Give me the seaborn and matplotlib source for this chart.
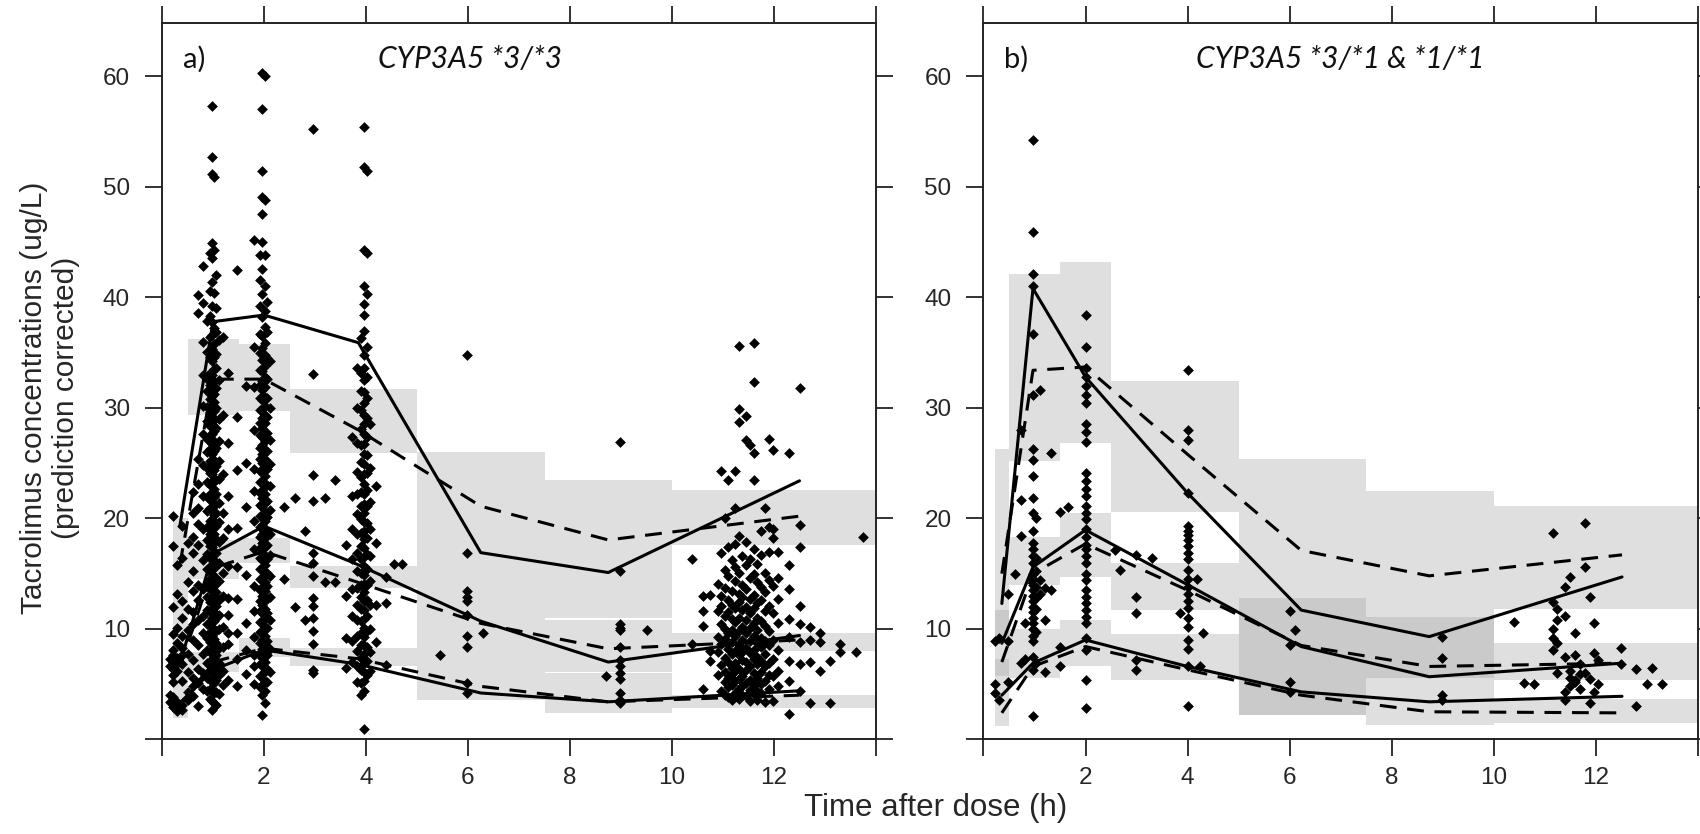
import matplotlib
matplotlib.use("Agg")
import matplotlib.pyplot as plt
import seaborn as sns
import pandas as pd

# ---------------- data ----------------
bin_edges = [0.22, 0.5, 1.5, 2.5, 5.0, 7.5, 10.0, 14.0]

# panel a: simulated CI boxes (95th, 50th, 5th percentiles)
hi_lo_a = [10.5, 29.4, 29.7, 25.9, 13.1, 11.0, 17.6]
hi_hi_a = [20.0, 36.2, 35.8, 31.7, 26.0, 23.5, 22.6]
med_lo_a = [4.5, 14.5, 16.0, 13.7, 7.8, 6.1, 8.0]
med_hi_a = [10.5, 18.0, 18.2, 15.7, 13.1, 10.8, 9.65]
lo_lo_a = [1.9, 6.1, 7.5, 6.6, 3.6, 2.4, 2.8]
lo_hi_a = [4.5, 7.9, 9.2, 8.3, 7.8, 6.0, 4.0]

# panel b
hi_lo_b = [9.3, 25.2, 26.8, 20.6, 8.5, 5.6, 11.8]
hi_hi_b = [26.3, 42.1, 43.2, 32.4, 25.35, 22.5, 21.1]
med_lo_b = [5.7, 14.0, 14.7, 11.7, 2.2, 5.6, 5.4]
med_hi_b = [11.7, 18.3, 20.5, 16.0, 12.8, 11.1, 8.7]
lo_lo_b = [1.2, 5.6, 6.6, 5.4, 2.2, 1.3, 1.5]
lo_hi_b = [7.3, 10.0, 10.8, 9.5, 8.5, 5.6, 3.7]

# observed percentile lines (solid) and predicted medians (dashed)
t_a = [0.35, 1.0, 2.0, 3.85, 6.25, 8.75, 12.5]
obs_hi_a = [19.3, 37.8, 38.4, 35.9, 16.9, 15.1, 23.4]
obs_med_a = [6.9, 16.8, 19.3, 15.8, 10.7, 7.0, 9.4]
obs_lo_a = [3.3, 6.3, 8.1, 6.8, 4.2, 3.4, 4.4]
pred_hi_a = [15.8, 32.6, 32.6, 28.0, 21.1, 18.05, 20.2]
pred_med_a = [6.5, 15.5, 17.0, 14.2, 10.5, 8.2, 9.0]
pred_lo_a = [3.0, 7.0, 8.25, 7.3, 4.8, 3.4, 4.0]

t_b = [0.36, 0.97, 2.0, 4.0, 6.23, 8.74, 12.52]
obs_hi_b = [12.3, 40.8, 32.8, 22.3, 11.7, 9.3, 14.7]
obs_med_b = [8.7, 15.6, 18.95, 14.0, 8.4, 5.67, 6.9]
obs_lo_b = [4.0, 6.9, 9.0, 6.6, 4.3, 3.4, 3.9]
pred_hi_b = [15.0, 33.4, 33.7, 25.8, 17.1, 14.8, 16.7]
pred_med_b = [7.0, 15.0, 17.7, 13.5, 8.5, 6.6, 6.9]
pred_lo_b = [2.4, 6.6, 8.4, 6.3, 4.0, 2.5, 2.4]

# observations, grouped as (time after dose, [concentrations])
obs_a = [
    (0.15, [7.3, 6.6, 4.0, 3.4]),
    (0.22, [20.2, 17.5, 12.0, 9.5, 8.1, 7.6, 7.0, 6.4, 5.8, 5.2, 3.8, 3.2, 2.9]),
    (0.30, [15.8, 13.2, 10.1, 8.7, 7.4, 6.9, 6.2, 3.4, 2.8, 2.6]),
    (0.40, [19.3, 16.4, 12.5, 11.0, 9.4, 8.3, 7.6, 6.8, 5.3, 3.1, 2.7]),
    (0.50, [17.8, 14.2, 11.8, 9.9, 7.7, 6.1, 4.3, 3.6]),
    (0.60, [22.4, 20.5, 18.3, 16.9, 15.2, 13.4, 11.5, 10.4, 9.0, 7.2, 5.6, 4.8, 3.9]),
    (0.70, [40.2, 38.6, 25.4, 23.1, 20.9, 19.5, 17.6, 14.0, 12.6, 10.8, 8.5, 6.4, 5.1, 3.0]),
    (0.80, [42.8, 39.5, 36.0, 33.0, 30.2, 27.6, 24.8, 22.0, 19.0, 16.2, 13.6, 11.2, 9.6, 7.7, 6.0, 4.6]),
    (0.88, [37.9, 35.1, 32.6, 31.5, 30.1, 28.8, 27.2, 26.0, 24.6, 23.3, 21.9, 20.7, 19.2, 18.0, 16.8,
            15.4, 14.1, 12.9, 11.7, 10.4, 9.2, 8.1, 6.9, 5.6, 4.4]),
    (0.94, [44.0, 40.6, 38.3, 36.4, 34.6, 33.2, 32.1, 30.8, 29.6, 28.4, 27.5, 26.3, 25.2, 24.1, 23.0,
            21.8, 20.9, 19.8, 18.6, 17.5, 16.4, 15.3, 14.5, 13.6, 12.4, 11.5, 10.6, 9.7, 8.8, 7.9,
            7.1, 6.3, 5.4, 4.6, 3.7]),
    (0.98, [57.3, 52.7, 51.2, 44.9, 43.6, 41.4, 39.2, 37.8, 36.6, 35.3, 34.2, 33.0, 32.0, 31.1, 30.3,
            29.3, 28.5, 27.6, 26.7, 25.8, 24.9, 24.0, 23.2, 22.4, 21.5, 20.7, 19.9, 19.0, 18.2, 17.4,
            16.6, 15.8, 15.0, 14.2, 13.4, 12.6, 11.8, 11.0, 10.2, 9.4, 8.6, 7.8, 7.0, 6.2, 5.4, 4.5,
            3.5, 2.7]),
    (1.02, [50.9, 44.3, 40.4, 37.2, 35.8, 34.6, 33.5, 32.4, 31.3, 30.5, 29.7, 28.9, 27.9, 27.0, 26.1,
            25.3, 24.4, 23.6, 22.7, 21.9, 21.1, 20.3, 19.4, 18.6, 17.8, 17.0, 16.2, 15.5, 14.7, 13.9,
            13.1, 12.3, 11.5, 10.7, 9.9, 9.1, 8.3, 7.5, 6.7, 5.9, 5.1, 4.2, 3.3]),
    (1.06, [42.0, 39.0, 36.9, 34.9, 33.6, 31.8, 30.0, 28.2, 26.4, 24.7, 23.5, 22.2, 20.5, 19.3, 18.1,
            16.9, 15.7, 14.6, 13.3, 12.1, 11.0, 9.8, 8.7, 7.6, 6.5, 5.4, 4.3, 3.1]),
    (1.12, [36.1, 32.5, 29.0, 27.0, 25.2, 23.6, 21.4, 19.7, 17.9, 16.0, 14.3, 12.6, 11.3, 10.0, 8.3,
            6.9, 5.8, 4.1]),
    (1.20, [36.4, 29.4, 24.0, 20.5, 18.2, 15.1, 13.0, 10.2, 8.4, 6.2, 4.9]),
    (1.30, [33.2, 26.8, 22.0, 19.0, 15.7, 12.8, 11.3, 9.6, 8.6, 5.4]),
    (1.48, [42.5, 29.2, 24.4, 19.1, 15.6, 12.7, 9.6, 7.3, 4.8]),
    (1.65, [32.0, 25.0, 21.0, 14.9, 10.5, 8.1, 5.9]),
    (1.80, [45.2, 35.5, 31.9, 28.0, 24.5, 22.5, 19.8, 17.2, 13.9, 11.6, 9.3, 7.6, 6.6, 5.0]),
    (1.92, [43.8, 41.6, 39.2, 36.7, 35.0, 33.4, 32.1, 30.9, 29.8, 28.6, 27.5, 26.4, 25.4, 24.3, 23.3,
            22.3, 21.2, 20.2, 19.2, 18.3, 17.3, 16.4, 15.4, 14.5, 13.5, 12.5, 11.6, 10.6, 9.7, 8.7,
            7.7, 6.8, 5.7, 4.7]),
    (1.97, [60.3, 57.0, 51.4, 49.1, 47.5, 45.0, 42.6, 40.3, 38.2, 36.5, 35.4, 34.3, 33.3, 32.4, 31.6,
            30.7, 29.9, 29.1, 28.2, 27.4, 26.6, 25.8, 25.0, 24.2, 23.4, 22.6, 21.8, 21.0, 20.2, 19.4,
            18.6, 17.8, 17.0, 16.2, 15.4, 14.6, 13.8, 13.0, 12.2, 11.4, 10.6, 9.8, 9.0, 8.2, 7.4,
            6.6, 5.8, 4.9, 4.0, 2.2]),
    (2.01, [60.0, 48.8, 43.8, 41.0, 38.8, 37.3, 35.9, 34.8, 33.8, 32.8, 31.9, 31.0, 30.2, 29.4, 28.6,
            27.8, 27.0, 26.2, 25.4, 24.6, 23.8, 23.0, 22.2, 21.4, 20.6, 19.8, 19.0, 18.2, 17.4, 16.6,
            15.8, 15.0, 14.2, 13.4, 12.6, 11.8, 11.0, 10.2, 9.4, 8.6, 7.8, 7.0, 6.2, 5.3, 4.4, 3.3]),
    (2.06, [39.6, 36.9, 34.5, 32.6, 30.9, 29.2, 27.7, 26.1, 24.5, 23.0, 21.6, 20.1, 18.8, 17.6, 16.3,
            15.1, 13.9, 12.7, 11.4, 10.1, 8.9, 7.6, 6.4, 5.2]),
    (2.12, [34.2, 30.0, 27.1, 24.9, 22.9, 20.8, 18.6, 16.7, 14.8, 12.9, 10.8, 8.2, 6.1]),
    (2.40, [14.5, 21.0]),
    (2.60, [21.8, 12.0]),
    (2.80, [18.9, 10.8]),
    (2.97, [55.2, 33.1, 23.9, 21.6, 16.9, 16.0, 14.8, 12.8, 12.1, 11.0, 9.8, 8.6, 6.3, 6.0]),
    (3.20, [21.8, 14.2]),
    (3.40, [23.5, 14.2]),
    (3.60, [17.6, 13.0, 9.2, 6.5]),
    (3.72, [27.4, 22.0, 19.0, 16.3, 13.6, 11.2, 8.9, 7.0]),
    (3.82, [33.6, 30.0, 26.8, 24.2, 22.2, 20.4, 18.6, 16.9, 15.2, 13.7, 12.2, 10.8, 9.4, 8.0, 6.6, 5.2]),
    (3.90, [36.3, 33.2, 31.5, 29.8, 28.1, 26.6, 25.1, 23.7, 22.4, 21.1, 19.9, 18.7, 17.5, 16.3, 15.1,
            14.0, 12.9, 11.8, 10.7, 9.6, 8.5, 7.4, 6.3, 5.1, 4.0]),
    (3.96, [55.4, 51.8, 44.3, 41.0, 39.4, 38.4, 37.0, 34.8, 33.6, 32.5, 31.4, 30.4, 29.4, 28.5, 27.6,
            26.7, 25.8, 24.9, 24.0, 23.1, 22.2, 21.3, 20.5, 19.7, 18.9, 18.1, 17.3, 16.5, 15.7, 14.9,
            14.1, 13.3, 12.5, 11.7, 10.9, 10.1, 9.3, 8.5, 7.7, 6.9, 6.1, 5.3, 4.4, 0.9]),
    (4.01, [51.4, 44.0, 40.3, 35.5, 32.8, 30.9, 29.1, 27.4, 25.7, 24.1, 22.6, 21.1, 19.6, 18.2, 16.8,
            15.4, 14.0, 12.6, 11.2, 9.8, 8.4, 7.1, 5.8]),
    (4.08, [28.5, 24.6, 21.5, 19.0, 16.6, 14.3, 12.2, 10.0, 7.9, 6.2]),
    (4.20, [22.9, 17.8, 12.2, 8.8]),
    (4.40, [14.7, 6.7, 12.3]),
    (4.55, [15.9]),
    (4.70, [15.9]),
    (5.46, [7.6]),
    (5.98, [34.8, 16.9, 13.4, 12.9, 12.5, 11.3, 9.4, 8.4, 5.1, 4.2]),
    (6.30, [9.6]),
    (8.70, [5.7]),
    (8.98, [26.9, 15.2, 10.4, 10.1, 9.9, 8.4, 7.2, 6.6, 6.0, 5.5, 4.2, 3.6, 3.3]),
    (9.50, [9.9]),
    (10.40, [16.3, 8.6]),
    (10.60, [13.0, 11.6, 10.3, 4.6]),
    (10.75, [13.1, 8.0, 7.1]),
    (10.90, [14.1, 11.6, 9.3, 7.9, 5.8]),
    (10.97, [24.3, 16.9, 13.0, 12.1, 10.4, 8.6, 6.7, 4.4]),
    (11.03, [20.0, 15.3, 13.7, 11.2, 10.0, 9.1, 7.4, 6.1, 5.2, 4.0]),
    (11.10, [23.5, 17.4, 14.8, 12.6, 11.5, 9.6, 8.2, 7.0, 5.6, 4.7, 3.8]),
    (11.17, [16.2, 13.4, 12.2, 10.9, 9.9, 8.8, 7.7, 6.5, 5.9, 4.9, 3.6]),
    (11.24, [24.3, 20.9, 17.7, 15.6, 14.3, 11.9, 10.6, 9.4, 8.0, 6.9, 6.2, 5.3, 4.2]),
    (11.31, [35.6, 29.9, 28.7, 18.4, 15.1, 13.2, 12.4, 11.0, 9.8, 8.5, 7.6, 6.4, 5.5, 4.6, 3.7]),
    (11.38, [16.6, 14.0, 12.9, 11.7, 10.2, 9.0, 7.9, 7.2, 5.7, 4.8, 4.0]),
    (11.45, [29.3, 27.1, 17.9, 15.8, 13.6, 12.0, 10.8, 9.6, 8.3, 7.0, 6.3, 5.1, 3.9]),
    (11.52, [26.6, 16.3, 14.6, 12.7, 11.4, 10.1, 8.9, 7.8, 6.6, 5.4, 4.5, 3.5]),
    (11.60, [35.9, 32.3, 25.9, 23.5, 17.2, 15.0, 13.1, 11.9, 10.5, 9.4, 8.1, 7.3, 6.0, 4.9, 4.1]),
    (11.67, [15.9, 14.2, 12.3, 11.0, 9.9, 8.7, 7.5, 6.8, 5.6, 4.4, 3.6]),
    (11.74, [18.9, 16.7, 13.8, 12.6, 10.7, 9.2, 8.4, 7.1, 6.1, 5.0, 4.2]),
    (11.82, [20.9, 15.1, 13.3, 11.6, 10.3, 8.9, 7.7, 6.6, 5.3, 3.4]),
    (11.90, [27.2, 19.2, 17.0, 14.4, 12.1, 9.8, 8.5, 6.9, 5.8, 4.6]),
    (11.98, [26.2, 19.0, 18.2, 13.9, 11.4, 9.0, 7.3, 5.7, 3.5]),
    (12.08, [17.0, 14.6, 12.7, 10.5, 8.1, 6.2, 4.8]),
    (12.30, [25.9, 15.8, 13.6, 10.9, 9.3, 7.1, 5.3, 2.3]),
    (12.50, [31.8, 19.4, 17.4, 12.1, 10.4, 8.8, 6.8, 4.4]),
    (12.70, [10.2, 9.0, 7.0, 3.3]),
    (12.90, [9.6, 8.8, 6.2]),
    (13.10, [7.1, 3.3]),
    (13.30, [8.6, 7.9]),
    (13.60, [7.9]),
    (13.75, [18.3]),
]

obs_b = [
    (0.22, [8.9, 5.0, 4.2]),
    (0.30, [9.2, 3.6]),
    (0.49, [13.2, 8.9, 5.2]),
    (0.62, [15.0]),
    (0.73, [28.0, 21.7, 18.4, 6.9]),
    (0.82, [10.5, 7.3]),
    (0.98, [54.2, 45.9, 42.1, 41.0, 36.7, 31.2, 26.3, 25.3, 23.8, 21.8, 20.5, 18.9, 17.8, 17.2, 16.6,
            16.0, 15.0, 14.5, 14.0, 13.5, 13.0, 12.5, 12.0, 11.5, 11.0, 10.5, 10.0, 9.4, 8.9, 7.5,
            6.3, 2.1]),
    (1.03, [20.0, 16.4, 15.2, 13.8, 12.8, 11.8, 9.7, 6.9]),
    (1.11, [31.6, 14.4, 13.2]),
    (1.20, [13.7, 10.8, 6.1]),
    (1.32, [25.9, 13.5]),
    (1.50, [20.6, 8.4, 6.6]),
    (1.66, [21.0]),
    (2.01, [38.4, 35.5, 33.6, 32.8, 32.0, 31.2, 30.4, 28.5, 27.8, 26.9, 24.1, 23.4, 22.7, 22.0, 21.1,
            20.5, 19.9, 19.0, 18.3, 17.6, 17.2, 16.6, 16.0, 15.0, 14.4, 13.5, 12.9, 12.3, 11.7, 11.1,
            10.5, 9.2, 8.1, 5.4, 2.8]),
    (2.57, [17.1]),
    (2.67, [15.3]),
    (2.99, [16.7, 12.9, 11.4, 7.2, 6.3]),
    (3.30, [16.4]),
    (3.85, [11.4]),
    (4.01, [33.4, 28.0, 27.1, 22.3, 19.3, 18.9, 18.5, 18.0, 17.5, 16.9, 16.3, 15.3, 14.5, 13.8, 13.2,
            12.5, 11.9, 11.0, 10.2, 9.0, 8.2, 6.6, 3.0]),
    (4.18, [14.5]),
    (4.25, [6.6]),
    (4.30, [9.6]),
    (6.00, [11.6, 8.5, 5.2, 4.3]),
    (6.10, [9.9]),
    (8.99, [9.3, 7.4, 4.0, 3.6]),
    (10.40, [10.6]),
    (10.60, [5.1]),
    (10.80, [5.0]),
    (11.16, [18.7, 12.4, 10.0, 9.2, 8.1]),
    (11.25, [11.8, 10.8, 8.7, 6.0]),
    (11.40, [13.8, 11.2, 7.5, 4.3, 3.6]),
    (11.50, [14.7, 6.2, 5.6, 4.8]),
    (11.60, [9.6, 7.6, 5.4, 5.2]),
    (11.70, [6.8, 5.9, 4.6]),
    (11.80, [19.6, 15.6, 6.0]),
    (11.90, [12.9, 5.5, 3.3]),
    (11.97, [10.5, 7.8, 4.3]),
    (12.05, [7.2, 5.0]),
    (12.50, [8.3, 6.8]),
    (12.80, [6.4, 3.0]),
    (13.00, [5.0]),
    (13.10, [6.5]),
    (13.30, [5.0]),
]

panel_titles = ["CYP3A5 *3/*3", "CYP3A5 *3/*1 & *1/*1"]
panel_tags = ["a)", "b)"]
title_x = [6.04, 7.0]
x_label = "Time after dose (h)"
y_label = "Tacrolimus concentrations (ug/L)\n(prediction corrected)"
x_ticks = [0, 2, 4, 6, 8, 10, 12, 14]
x_ticklabels = ["", "2", "4", "6", "8", "10", "12", ""]
y_ticks = [0, 10, 20, 30, 40, 50, 60]
y_ticklabels = ["", "10", "20", "30", "40", "50", "60"]

# ---------------- style ----------------
sns.set_style("ticks")
plt.rcParams["font.family"] = ["Liberation Sans", "DejaVu Sans"]

W, H = 1700, 834
fig = plt.figure(figsize=(W / 100, H / 100), dpi=100)
left_px = [162, 983.5]
ax_w = 714
top_px, bot_px = 23.3, 739.4
axes = [fig.add_axes([lp / W, 1 - bot_px / H, ax_w / W, (bot_px - top_px) / H]) for lp in left_px]


def obs_frame(groups):
    rows = [(t, v) for t, vals in groups for v in vals]
    return pd.DataFrame(rows, columns=["time", "conc"])


def line_frame(t, series):
    rows = []
    for (kind, pct), vals in series.items():
        for ti, vi in zip(t, vals):
            rows.append((ti, vi, kind, pct))
    return pd.DataFrame(rows, columns=["time", "conc", "kind", "pct"])


panels = [
    dict(obs=obs_a, t=t_a,
         boxes=[(hi_lo_a, hi_hi_a), (med_lo_a, med_hi_a), (lo_lo_a, lo_hi_a)],
         lines={("obs", "hi"): obs_hi_a, ("obs", "med"): obs_med_a, ("obs", "lo"): obs_lo_a,
                ("pred", "hi"): pred_hi_a, ("pred", "med"): pred_med_a, ("pred", "lo"): pred_lo_a}),
    dict(obs=obs_b, t=t_b,
         boxes=[(hi_lo_b, hi_hi_b), (med_lo_b, med_hi_b), (lo_lo_b, lo_hi_b)],
         lines={("obs", "hi"): obs_hi_b, ("obs", "med"): obs_med_b, ("obs", "lo"): obs_lo_b,
                ("pred", "hi"): pred_hi_b, ("pred", "med"): pred_med_b, ("pred", "lo"): pred_lo_b}),
]

for i, (ax, p) in enumerate(zip(axes, panels)):
    # shaded CI boxes
    for lo, hi in p["boxes"]:
        for k in range(len(lo)):
            ax.fill_between([bin_edges[k], bin_edges[k + 1]], [lo[k], lo[k]], [hi[k], hi[k]],
                            color="#a0a0a0", alpha=0.33, linewidth=0, zorder=1)
    # observations
    sns.scatterplot(data=obs_frame(p["obs"]), x="time", y="conc", ax=ax, marker="D", s=30,
                    color="black", linewidth=0, legend=False, zorder=2)
    # percentile lines
    sns.lineplot(data=line_frame(p["t"], p["lines"]), x="time", y="conc", style="kind",
                 units="pct", estimator=None, sort=False, ax=ax, color="black", linewidth=2.2,
                 dashes={"obs": "", "pred": (5.5, 3.5)}, legend=False, zorder=3)

    ax.set_xlim(0, 14)
    ax.set_ylim(0, 64.8)
    ax.set_xticks(x_ticks)
    ax.set_xticklabels(x_ticklabels)
    ax.set_yticks(y_ticks)
    ax.set_yticklabels(y_ticklabels)
    ax.set_xlabel("")
    ax.set_ylabel("")
    ax.tick_params(axis="both", direction="out", length=12, width=1.3, color="#222222",
                   labelsize=17.5, top=True, right=True, labeltop=False, labelright=False)
    ax.tick_params(axis="x", pad=8)
    ax.tick_params(axis="y", pad=11)
    for sp in ax.spines.values():
        sp.set_visible(True)
        sp.set_linewidth(1.4)
        sp.set_color("#222222")
    ax.text(title_x[i], 60.8, panel_titles[i], ha="center", va="baseline", fontsize=21.5,
            family=["Lato", "DejaVu Sans"], fontstyle="italic", color="#111111")
    ax.text(0.41, 60.8, panel_tags[i], ha="left", va="baseline", fontsize=21,
            family=["Lato", "DejaVu Sans"], color="#111111")

fig.text(936 / W, 1 - 808 / H, x_label, ha="center", va="center", fontsize=22.5)
fig.text(50 / W, 1 - 398 / H, y_label, ha="center", va="center", rotation=90,
         multialignment="center", linespacing=1.15, fontsize=21.5)

fig.savefig("out.png", dpi=100, facecolor="white")
